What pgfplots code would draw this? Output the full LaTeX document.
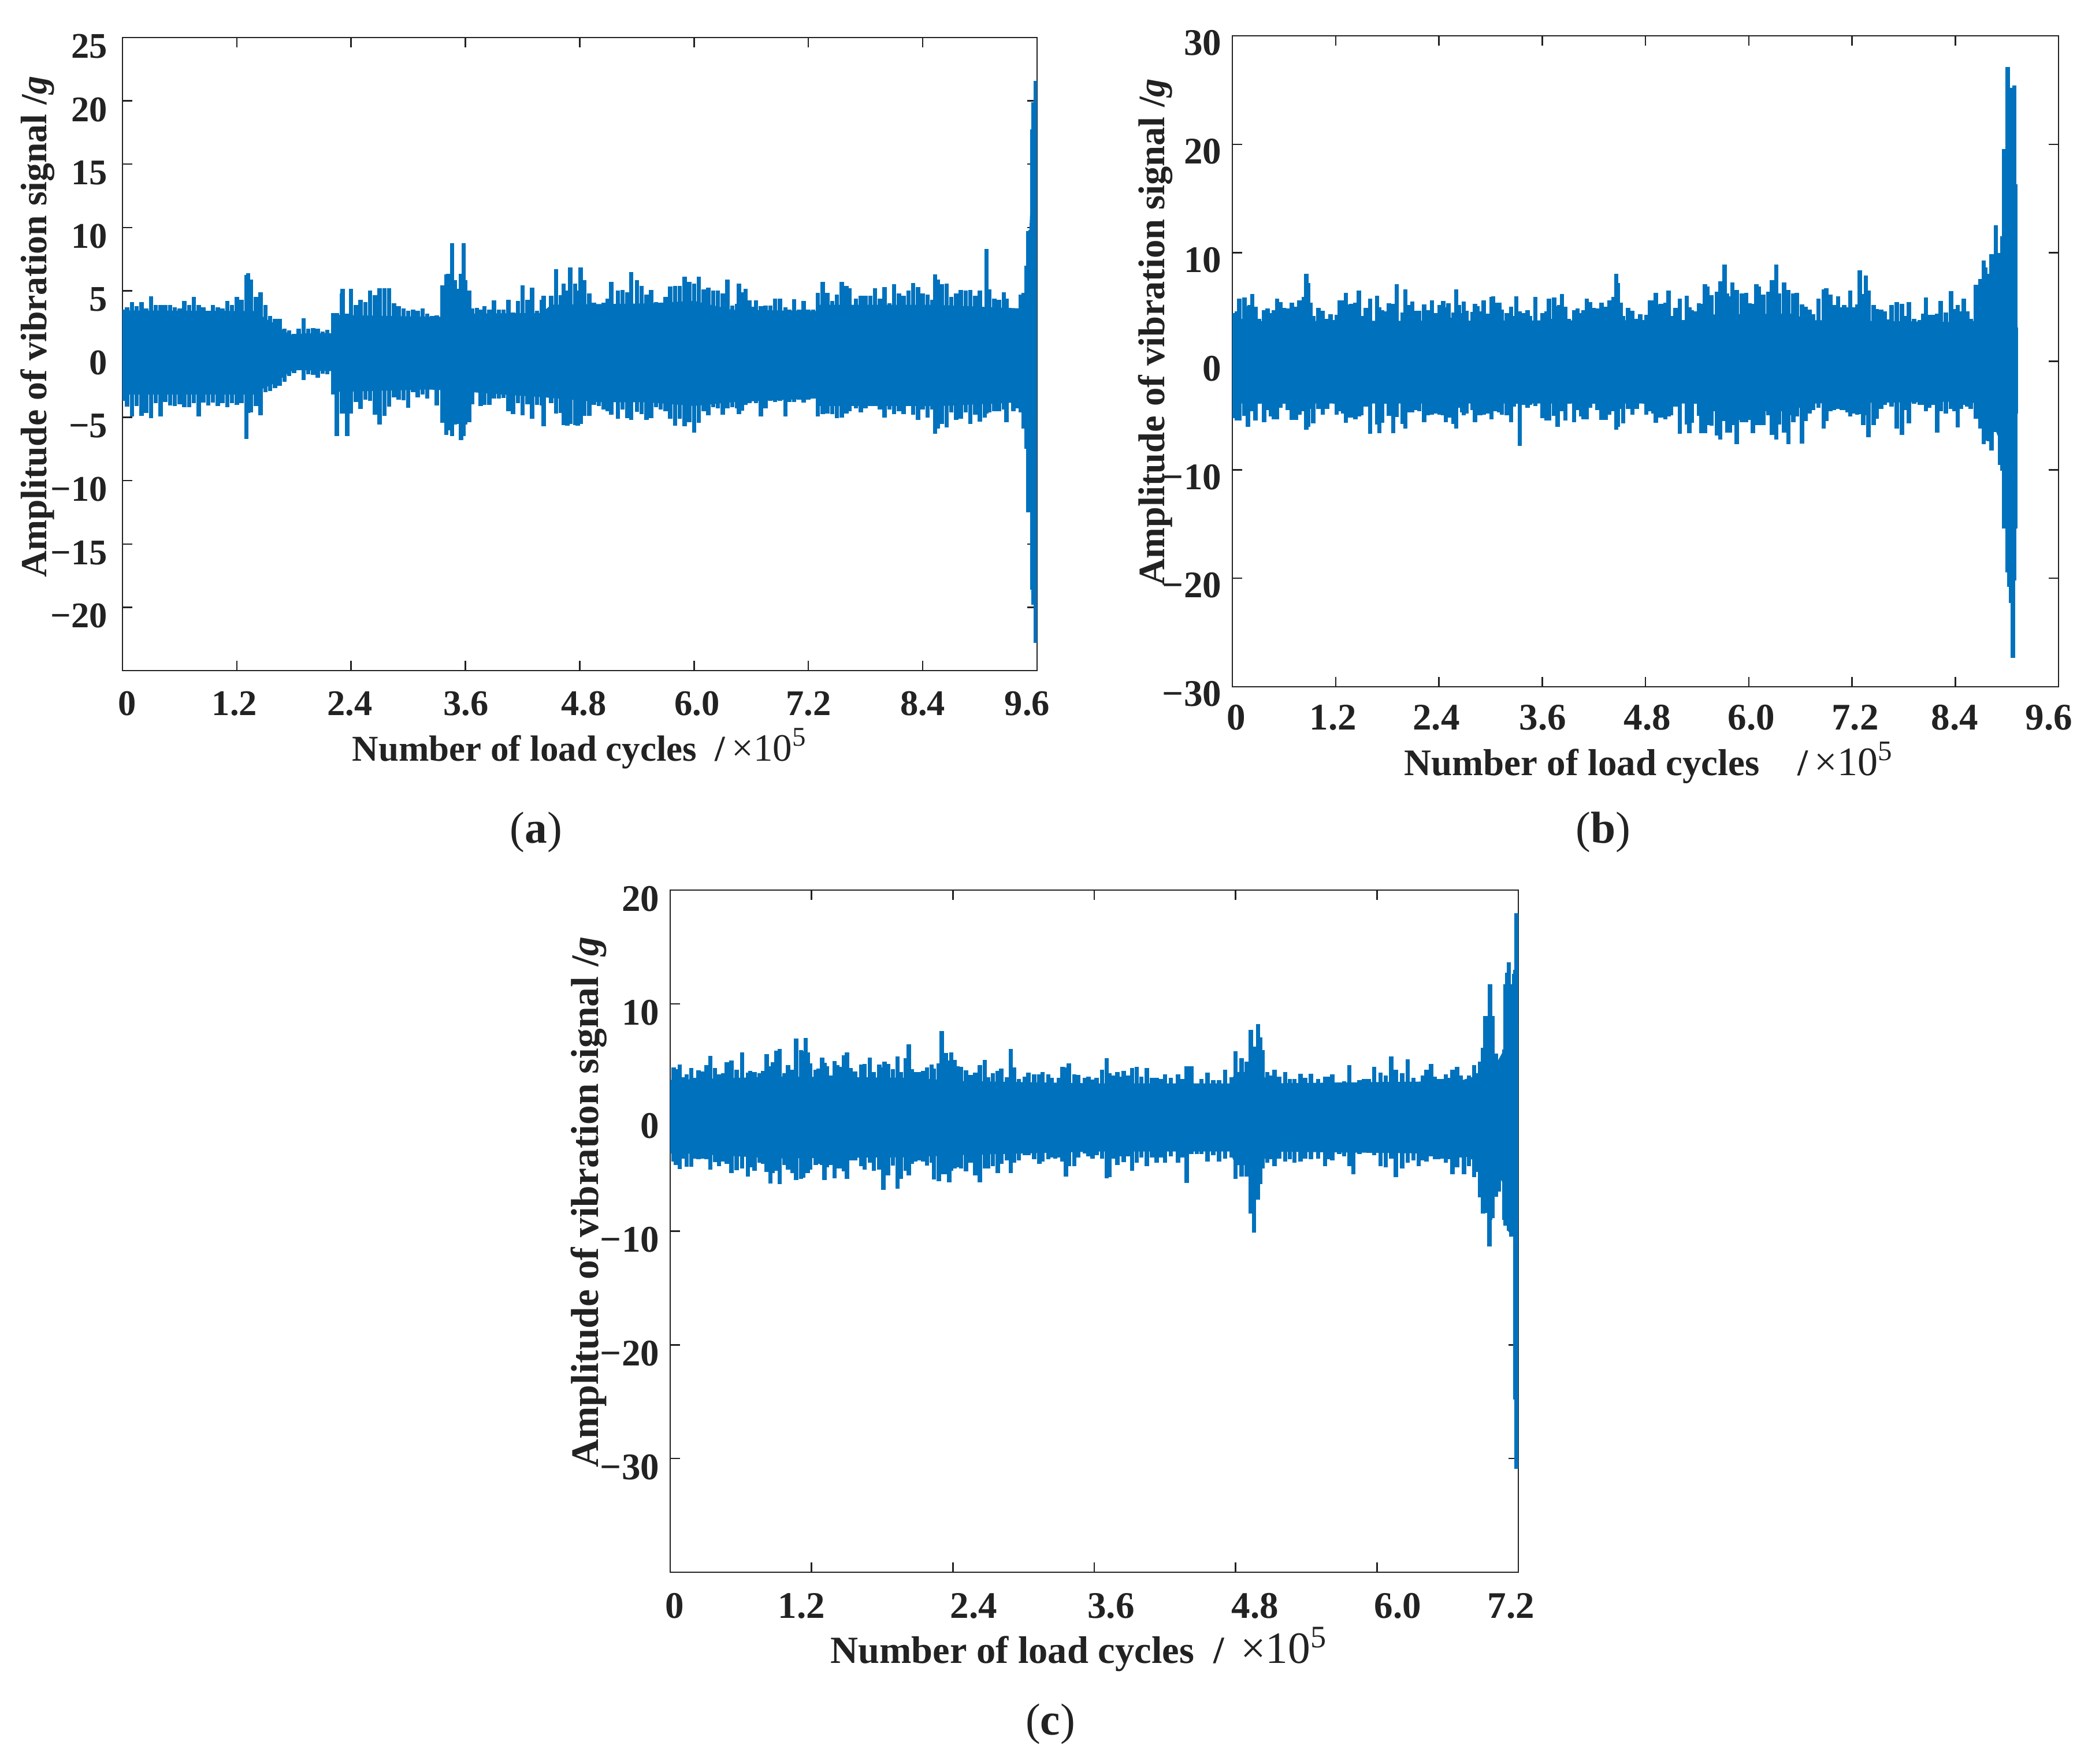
\documentclass[border=0pt]{standalone}
\usepackage{fontspec}
\setmainfont{Liberation Serif}
\usepackage{pgfplots}
\usepackage{pgfplotstable}
\pgfplotsset{compat=1.18}
\definecolor{sigblue}{RGB}{0,114,189}
\definecolor{axdark}{RGB}{34,34,34}
% shift a tick label sideways without moving its tick
\newcommand\sh[2]{\hbox to 0pt{\hss\kern2\dimexpr#1pt\relax #2\hss}}
\newcommand\ylab{\bfseries Amplitude of vibration signal /\textit{g}}
\pgfplotsset{sig/.style={
  scale only axis, axis line style={axdark,line width=.5pt},
  tick style={axdark,line width=.5pt}, major tick length=3.4pt, tick align=inside,
  ticklabel style={font=\fontsize{12.5}{14}\selectfont\bfseries,text=axdark},
  yticklabel style={inner sep=0pt,xshift=-5pt,yshift=-3pt},
  xticklabel style={inner sep=0pt,yshift=-7pt},
  label style={text=axdark,anchor=center},
}}
\pgfplotsset{comb/.style={ycomb,sigblue,line width=1.5pt,mark=none,forget plot}}

% x (x10^5 cycles), upper and lower envelope of the signal
\pgfplotstableread{
x hi lo
0.00 3.5 -3.7
0.05 3.7 -4.15
0.10 4.1 -4.95
0.15 3.8 -4.1
0.20 4.1 -4.9
0.25 3.6 -4.65
0.30 4.55 -5.05
0.35 3.9 -3.9
0.40 3.9 -4.95
0.45 3.9 -3.8
0.50 3.9 -4.05
0.55 3.7 -4.1
0.60 3.6 -3.95
0.65 4.2 -4.2
0.70 3.9 -4.2
0.75 4.5 -3.9
0.80 3.9 -4.95
0.85 3.7 -3.85
0.90 3.2 -4.05
0.95 3.9 -3.85
1.00 3.7 -4.1
1.05 3.6 -3.9
1.10 4.2 -4.2
1.15 3.9 -3.9
1.20 4.5 -4.0
1.25 4.3 -3.9
1.30 6.25 -6.7
1.32 6.4 -4.65
1.35 5.9 -4.6
1.40 4.5 -4.1
1.45 4.9 -4.85
1.50 3.9 -3.0
1.55 3.0 -2.9
1.60 2.8 -2.7
1.65 2.8 -2.5
1.70 2.0 -2.2
1.75 1.85 -1.75
1.80 1.6 -1.5
1.85 2.0 -1.3
1.90 2.85 -2.05
1.95 2.0 -1.6
2.00 2.05 -1.65
2.05 2.0 -1.85
2.10 1.8 -1.55
2.15 1.9 -1.6
2.21 3.25 -3.2
2.25 3.25 -6.5
2.30 4.8 -4.7
2.31 5.15 -4.7
2.36 3.2 -6.5
2.40 5.15 -4.7
2.45 3.9 -3.8
2.50 4.3 -4.35
2.55 4.1 -3.6
2.60 5.0 -3.7
2.65 4.65 -4.8
2.70 5.2 -5.55
2.75 5.2 -4.9
2.80 5.2 -4.15
2.85 4.0 -3.4
2.90 3.8 -3.6
2.95 3.6 -3.65
3.00 3.4 -4.25
3.05 3.5 -3.0
3.10 3.4 -3.4
3.15 3.6 -3.2
3.20 3.2 -3.5
3.25 3.0 -2.8
3.30 3.05 -4.05
3.36 5.45 -5.45
3.40 6.3 -6.4
3.42 6.35 -6.0
3.46 8.75 -6.5
3.49 5.85 -5.55
3.52 5.15 -5.5
3.555 6.35 -6.8
3.58 8.75 -6.5
3.60 5.85 -5.55
3.64 5.0 -5.4
3.67 3.6 -3.95
3.72 3.65 -3.0
3.76 3.5 -4.1
3.80 3.8 -4.0
3.85 3.5 -4.0
3.90 4.25 -3.5
3.95 3.5 -3.5
4.00 3.5 -3.45
4.05 4.3 -4.5
4.10 3.3 -4.75
4.15 4.2 -3.9
4.20 5.45 -4.85
4.25 4.3 -3.95
4.30 5.25 -5.1
4.35 3.4 -4.0
4.40 4.3 -4.05
4.42 4.6 -5.7
4.45 2.9 -3.4
4.50 4.6 -3.9
4.55 6.7 -4.7
4.60 4.65 -4.65
4.63 5.55 -5.6
4.67 5.0 -5.65
4.70 6.85 -5.5
4.75 5.55 -5.6
4.78 5.0 -5.65
4.81 6.85 -5.5
4.85 5.85 -4.9
4.90 4.8 -4.9
4.95 4.05 -4.0
5.00 3.8 -4.1
5.05 4.05 -4.4
5.09 4.4 -4.5
5.13 5.7 -4.8
5.20 5.0 -5.1
5.25 5.05 -4.4
5.30 4.9 -5.05
5.34 6.5 -5.2
5.40 5.85 -4.55
5.45 5.4 -4.75
5.50 4.7 -5.2
5.55 5.05 -5.05
5.60 4.1 -4.2
5.65 3.55 -4.4
5.70 4.5 -4.5
5.75 5.35 -5.1
5.80 5.4 -5.65
5.85 5.4 -5.1
5.90 6.1 -5.7
5.95 5.7 -5.4
6.00 5.55 -6.2
6.05 6.1 -5.45
6.10 5.1 -4.5
6.15 5.25 -4.85
6.20 5.0 -4.2
6.25 5.0 -4.3
6.30 4.8 -4.8
6.35 5.9 -4.3
6.40 3.85 -4.2
6.45 3.95 -4.3
6.47 5.55 -4.75
6.50 4.9 -4.45
6.54 5.15 -4.0
6.58 4.25 -3.9
6.62 3.75 -3.6
6.65 4.25 -3.9
6.70 3.8 -4.95
6.75 3.85 -4.3
6.80 3.85 -3.7
6.85 4.4 -3.8
6.90 4.4 -3.7
6.96 3.7 -4.95
7.00 3.5 -3.8
7.05 4.35 -3.8
7.10 3.5 -3.6
7.15 4.2 -3.85
7.20 3.5 -3.6
7.25 3.5 -3.5
7.30 4.85 -4.95
7.35 5.7 -4.75
7.40 4.85 -4.7
7.45 4.2 -4.75
7.50 4.7 -5.05
7.55 5.7 -5.0
7.60 5.4 -4.7
7.63 5.2 -4.5
7.70 4.4 -4.3
7.75 4.6 -4.6
7.80 4.6 -4.3
7.85 4.6 -4.1
7.90 5.2 -4.1
7.95 4.4 -4.4
8.00 5.3 -5.0
8.05 4.0 -4.4
8.10 5.5 -4.75
8.15 4.8 -4.5
8.20 4.6 -4.75
8.25 5.0 -4.1
8.30 5.6 -4.8
8.35 5.3 -5.2
8.40 4.8 -4.4
8.45 4.7 -5.0
8.50 4.3 -4.4
8.53 6.3 -6.3
8.56 5.9 -5.9
8.60 5.5 -5.5
8.65 5.55 -5.8
8.70 4.5 -4.6
8.75 4.8 -5.2
8.80 5.05 -5.1
8.85 5.0 -4.6
8.90 5.05 -5.5
8.95 4.6 -4.8
9.00 5.0 -5.35
9.05 3.6 -5.0
9.07 8.3 -4.7
9.10 5.1 -4.6
9.15 4.4 -4.5
9.20 4.3 -4.5
9.25 4.9 -4.4
9.28 4.4 -5.4
9.35 3.6 -4.5
9.40 3.5 -4.3
9.43 4.7 -4.6
9.46 4.85 -5.9
9.49 7.0 -7.5
9.51 9.7 -12.5
9.53 9.8 -12.5
9.55 17.75 -18.6
9.565 19.9 -19.8
9.585 21.6 -22.8
}\dataA

\pgfplotstableread{
x hi lo
0.00 4.45 -5.25
0.05 4.6 -5.45
0.08 5.75 -5.45
0.11 3.9 -3.3
0.14 5.9 -5.05
0.18 5.1 -6.05
0.20 5.2 -4.6
0.23 6.2 -4.6
0.27 5.05 -5.45
0.31 3.9 -3.9
0.37 4.7 -5.6
0.41 4.85 -4.5
0.45 4.45 -5.1
0.48 4.7 -5.35
0.52 5.8 -5.35
0.56 5.45 -4.3
0.60 4.9 -3.9
0.64 4.85 -4.5
0.69 5.4 -5.4
0.74 5.05 -5.4
0.78 5.6 -4.9
0.83 5.95 -4.6
0.86 8.05 -6.3
0.88 7.2 -6.05
0.91 5.4 -4.4
0.94 4.2 -5.75
1.00 4.95 -4.4
1.05 4.65 -4.9
1.10 3.9 -4.4
1.14 4.35 -3.8
1.19 3.8 -3.9
1.21 4.3 -4.9
1.25 5.6 -4.6
1.29 5.6 -4.8
1.32 6.3 -5.65
1.35 5.25 -5.2
1.38 5.3 -5.2
1.43 5.4 -5.35
1.47 6.5 -5.1
1.50 4.2 -5.0
1.55 4.95 -4.2
1.60 5.75 -6.7
1.64 3.0 -3.6
1.68 6.05 -5.85
1.71 5.0 -6.65
1.74 4.7 -5.65
1.78 4.6 -3.9
1.82 5.35 -5.05
1.87 5.3 -6.65
1.91 7.1 -5.15
1.98 4.5 -5.8
2.01 6.65 -6.2
2.04 5.2 -4.7
2.09 5.5 -4.7
2.13 4.65 -4.5
2.17 4.65 -4.6
2.23 5.25 -5.6
2.27 4.7 -5.0
2.29 3.5 -4.4
2.32 5.6 -4.9
2.36 4.45 -4.8
2.41 5.2 -4.95
2.45 5.55 -5.0
2.48 5.0 -5.6
2.51 5.35 -5.2
2.54 4.0 -5.2
2.57 4.5 -5.8
2.60 6.65 -6.2
2.63 5.2 -4.3
2.67 4.45 -4.7
2.69 5.5 -5.0
2.72 4.65 -4.8
2.79 4.55 -4.5
2.82 5.3 -5.6
2.85 5.1 -5.0
2.88 4.6 -5.0
2.92 5.6 -4.95
2.96 4.4 -4.8
3.01 5.95 -5.35
3.03 6.0 -4.6
3.06 5.4 -4.6
3.10 5.4 -4.7
3.13 4.75 -4.9
3.19 4.45 -5.0
3.24 5.05 -5.6
3.27 4.2 -4.2
3.30 6.0 -3.9
3.34 4.6 -7.8
3.38 4.45 -4.0
3.43 4.7 -4.3
3.46 4.2 -4.0
3.52 5.95 -4.15
3.60 4.45 -5.25
3.65 4.6 -5.45
3.68 5.75 -5.45
3.71 3.9 -3.3
3.74 5.9 -5.05
3.78 5.1 -6.05
3.80 5.2 -4.6
3.83 6.2 -4.6
3.87 5.05 -5.45
3.91 3.9 -3.9
3.97 4.7 -5.6
4.01 4.85 -4.5
4.05 4.45 -5.1
4.08 4.7 -5.35
4.12 5.8 -5.35
4.16 5.45 -4.3
4.20 4.9 -3.9
4.24 4.85 -4.5
4.29 5.4 -5.4
4.34 5.05 -5.4
4.38 5.6 -4.9
4.43 5.95 -4.6
4.46 8.05 -6.3
4.48 7.2 -6.05
4.51 5.4 -4.4
4.54 4.2 -5.75
4.60 4.95 -4.4
4.65 4.65 -4.9
4.70 3.9 -4.4
4.74 4.35 -3.8
4.79 3.8 -3.9
4.81 4.3 -4.9
4.85 5.6 -4.6
4.89 5.6 -4.8
4.92 6.3 -5.65
4.95 5.25 -5.2
4.98 5.3 -5.2
5.03 5.4 -5.35
5.07 6.5 -5.1
5.10 4.2 -5.0
5.15 4.95 -4.2
5.20 5.75 -6.7
5.24 3.0 -3.6
5.28 6.05 -5.85
5.31 5.0 -6.65
5.34 4.7 -5.65
5.38 4.6 -3.9
5.42 5.35 -5.05
5.45 5.3 -6.65
5.49 7.1 -6.65
5.52 6.9 -5.9
5.57 6.1 -5.95
5.63 6.4 -6.85
5.67 7.4 -7.2
5.72 8.9 -5.5
5.75 6.25 -6.6
5.78 6.0 -6.6
5.81 7.25 -5.9
5.86 6.6 -7.65
5.89 3.9 -5.4
5.92 6.25 -5.6
5.97 6.3 -5.6
6.01 5.35 -5.4
6.05 5.3 -6.65
6.09 7.1 -5.9
6.12 6.9 -5.9
6.17 6.15 -5.9
6.23 6.4 -5.0
6.27 7.5 -6.8
6.32 8.9 -7.2
6.35 6.25 -5.85
6.41 7.25 -6.6
6.46 6.6 -7.65
6.49 4.2 -5.0
6.52 6.25 -5.6
6.56 6.3 -5.1
6.62 5.25 -7.6
6.66 5.05 -5.5
6.71 4.75 -4.8
6.75 4.35 -4.5
6.81 5.75 -4.3
6.87 6.65 -6.2
6.90 6.75 -5.5
6.95 6.15 -4.6
6.99 5.2 -4.5
7.04 6.0 -4.4
7.08 5.0 -4.5
7.11 5.2 -4.5
7.15 5.0 -4.7
7.18 6.5 -5.1
7.22 5.0 -4.8
7.26 5.25 -4.9
7.29 8.4 -4.85
7.33 6.2 -5.9
7.36 7.9 -5.0
7.39 6.5 -7.0
7.45 5.2 -5.9
7.49 4.8 -5.3
7.54 4.75 -4.4
7.58 4.6 -4.0
7.62 3.85 -3.6
7.66 5.2 -4.2
7.72 5.45 -6.2
7.78 5.3 -6.8
7.83 4.2 -4.5
7.86 5.45 -5.7
7.92 3.9 -3.9
7.99 3.8 -4.0
8.03 4.4 -4.0
8.06 5.9 -4.6
8.10 4.3 -4.3
8.14 4.3 -4.0
8.19 4.4 -6.6
8.23 5.55 -4.6
8.29 4.5 -4.8
8.35 6.45 -4.4
8.39 4.8 -4.6
8.43 5.2 -6.1
8.47 4.6 -4.4
8.50 5.8 -4.0
8.54 4.6 -4.2
8.58 3.9 -4.4
8.64 7.05 -5.3
8.69 7.6 -6.2
8.73 9.3 -7.65
8.75 8.65 -7.3
8.79 8.05 -7.4
8.82 9.9 -8.2
8.87 12.55 -6.5
8.88 9.55 -6.5
8.92 10.0 -9.55
8.95 11.5 -10.1
8.97 19.55 -15.4
8.99 17.3 -15.0
9.01 27.1 -19.45
9.03 21.7 -20.8
9.05 25.2 -22.3
9.07 22.6 -27.35
9.085 25.4 -20.2
9.10 16.3 -15.4
9.105 3.1 -4.8
}\dataB

\pgfplotstableread{
x hi lo
0.00 3.3 -3.15
0.03 4.4 -3.9
0.05 4.25 -4.2
0.08 4.65 -4.55
0.115 3.55 -3.6
0.14 3.8 -4.35
0.18 4.35 -4.35
0.20 3.5 -3.6
0.24 4.15 -3.7
0.28 4.05 -3.6
0.31 4.6 -3.7
0.34 5.4 -4.6
0.38 4.35 -3.95
0.415 3.8 -4.3
0.45 3.9 -3.9
0.48 4.85 -4.1
0.52 5.0 -4.9
0.565 4.2 -4.65
0.61 5.7 -4.5
0.66 3.95 -5.2
0.68 4.1 -4.4
0.715 4.0 -4.7
0.76 3.9 -4.0
0.79 4.1 -4.1
0.82 5.55 -4.8
0.85 4.5 -5.8
0.87 4.85 -4.9
0.90 5.9 -4.7
0.93 6.05 -5.85
0.97 3.9 -4.2
1.00 4.6 -4.6
1.04 4.2 -4.9
1.07 6.95 -5.5
1.11 5.95 -5.4
1.13 5.85 -5.3
1.15 7.0 -4.9
1.17 5.7 -4.9
1.19 4.75 -4.6
1.235 4.2 -4.2
1.26 4.3 -4.1
1.29 5.25 -4.2
1.31 4.8 -5.5
1.33 4.5 -4.4
1.36 3.7 -4.2
1.395 4.95 -5.35
1.42 4.6 -4.5
1.44 4.45 -4.5
1.475 5.45 -4.75
1.50 5.7 -5.4
1.53 4.35 -3.8
1.57 4.05 -3.8
1.62 4.65 -4.3
1.65 4.7 -4.6
1.695 5.25 -4.0
1.73 4.0 -4.7
1.775 4.65 -4.6
1.81 4.4 -6.35
1.82 4.9 -4.2
1.85 4.7 -5.1
1.89 4.25 -4.25
1.93 5.35 -6.25
1.96 4.0 -5.4
2.00 5.2 -4.7
2.025 6.45 -5.1
2.05 4.25 -4.1
2.08 4.0 -3.9
2.11 4.0 -3.8
2.145 4.1 -3.9
2.18 4.4 -4.25
2.22 4.65 -4.0
2.24 4.3 -5.45
2.28 4.75 -5.6
2.305 7.6 -5.0
2.34 5.65 -5.0
2.37 5.0 -5.7
2.385 5.7 -4.7
2.415 5.05 -4.5
2.44 4.5 -4.4
2.47 4.45 -4.5
2.51 4.15 -4.75
2.55 3.75 -4.0
2.59 3.95 -5.1
2.63 4.6 -5.7
2.67 5.05 -4.5
2.70 3.55 -4.5
2.74 3.9 -4.3
2.78 4.1 -4.9
2.81 4.3 -4.1
2.86 3.55 -3.8
2.89 6.05 -4.9
2.92 4.4 -4.0
2.96 3.4 -3.8
3.01 3.6 -3.3
3.04 3.95 -3.3
3.09 3.8 -3.7
3.135 3.8 -4.1
3.16 4.0 -3.9
3.21 3.8 -3.7
3.24 3.5 -3.5
3.27 2.8 -3.6
3.30 3.5 -3.5
3.33 4.45 -3.9
3.36 4.4 -5.2
3.385 4.75 -4.3
3.43 3.8 -4.3
3.465 3.75 -3.5
3.52 3.5 -3.15
3.55 3.6 -3.4
3.585 3.35 -3.6
3.62 3.5 -3.3
3.665 4.2 -3.6
3.705 5.2 -5.35
3.73 3.9 -5.25
3.76 3.7 -3.6
3.795 4.0 -4.2
3.82 3.6 -3.4
3.85 4.1 -3.95
3.89 3.7 -3.4
3.92 4.35 -4.7
3.96 4.45 -4.0
4.00 3.6 -3.5
4.045 4.35 -4.3
4.09 3.5 -3.5
4.13 3.5 -4.0
4.17 3.4 -3.5
4.20 3.8 -4.0
4.25 3.5 -3.4
4.31 3.8 -4.0
4.35 3.4 -3.5
4.385 4.5 -5.75
4.425 4.5 -3.2
4.47 2.6 -3.2
4.51 3.4 -3.2
4.56 3.95 -3.9
4.61 3.3 -3.3
4.66 3.3 -3.9
4.71 4.2 -3.6
4.765 3.55 -3.5
4.80 5.85 -5.4
4.85 5.2 -5.2
4.895 4.9 -5.2
4.93 7.7 -8.45
4.955 6.25 -10.15
4.99 8.2 -7.25
5.01 7.05 -5.85
5.03 5.95 -4.5
5.07 4.0 -4.0
5.10 3.7 -3.7
5.13 4.2 -4.3
5.17 3.6 -3.6
5.22 4.0 -3.9
5.26 3.4 -3.7
5.30 3.4 -4.0
5.35 3.85 -3.9
5.39 3.5 -3.6
5.44 3.85 -3.7
5.50 3.4 -3.6
5.56 3.6 -4.3
5.59 3.6 -3.7
5.62 3.8 -3.8
5.68 3.1 -3.2
5.72 3.2 -3.4
5.765 4.6 -4.3
5.80 3.1 -5.0
5.85 3.3 -3.2
5.89 3.4 -2.9
5.93 3.4 -3.1
5.975 4.45 -3.3
6.03 3.95 -4.3
6.075 3.7 -4.4
6.12 5.35 -3.6
6.16 4.2 -5.25
6.215 3.9 -4.5
6.26 5.1 -4.0
6.31 3.5 -3.8
6.355 3.1 -4.3
6.39 3.7 -3.8
6.42 4.2 -3.9
6.46 4.7 -3.4
6.49 3.6 -3.7
6.52 3.4 -3.7
6.55 3.4 -3.6
6.585 3.8 -4.0
6.61 3.5 -3.7
6.64 4.2 -5.0
6.68 4.45 -4.4
6.71 3.7 -3.5
6.74 3.3 -5.0
6.78 3.7 -4.3
6.825 4.6 -5.25
6.85 3.9 -4.8
6.875 4.9 -7.05
6.90 6.15 -8.45
6.92 8.9 -7.0
6.93 8.5 -8.1
6.94 8.0 -8.4
6.955 8.0 -11.35
6.96 11.7 -9.0
6.98 8.9 -8.85
7.01 5.6 -7.0
7.035 5.0 -6.5
7.06 4.9 -5.5
7.08 6.0 -9.0
7.09 11.7 -9.5
7.105 12.75 -9.5
7.12 13.65 -10
7.14 11.7 -10.5
7.15 11.0 -9.5
7.165 12.65 -10
7.175 13 -24.8
7.185 17.95 -30.9
7.195 11.5 -25
}\dataC

\begin{document}
\begin{tikzpicture}
\useasboundingbox (0,0) rectangle (722.8pt,610.6pt);

% (a)
\begin{axis}[sig, at={(42.4pt,378.4pt)}, width=316.6pt, height=219.2pt,
  xmin=0, xmax=9.6, ymin=-25, ymax=25,
  xtick={0,1.2,2.4,3.6,4.8,6,7.2,8.4,9.6},
  xticklabels={\sh{1.6}{0},\sh{-.8}{1.2},\sh{-.5}{2.4},\sh{.2}{3.6},\sh{1.4}{4.8},\sh{1}{6.0},7.2,8.4,\sh{-3.4}{9.6}},
  ytick={-25,-20,-15,-10,-5,0,5,10,15,20,25},
  yticklabels={,−20,−15,−10,−5,0,5,10,15,20,25},
  xlabel={\textbf{Number of load cycles}\ \ \textbf{/}\,{\fontsize{13.4}{14}\selectfont ×10\textsuperscript{5}}},
  ylabel={\ylab},
  xlabel style={font=\fontsize{12.6}{14}\selectfont,at={(axis description cs:0.5,-0.123)}},
  ylabel style={font=\fontsize{12.75}{14}\selectfont,at={(axis description cs:-0.093,0.543)}},
]
\addplot[fill=sigblue,draw=none,forget plot] coordinates {
 (0,3.45) (1.4,3.4) (1.5,2.8) (1.6,2.4) (1.7,1.8) (1.8,1.45) (1.9,1.65) (2.2,1.65) (2.21,3.1)
 (3.2,2.95) (3.35,2.95) (3.36,4.4) (3.64,4.4) (3.65,3.2) (4.4,3.25) (4.5,3.9) (5.5,4.0) (6.0,4.2)
 (6.4,3.5) (7.3,3.4) (7.32,3.9) (8.5,3.9) (9.45,3.6) (9.5,6.5) (9.55,15) (9.6,20)
 (9.6,-20) (9.55,-15) (9.5,-8) (9.45,-3.8) (8.6,-4.1) (7.32,-4.1) (7.3,-3.5) (6.4,-3.8)
 (6.0,-4.1) (5.5,-3.8) (5.0,-3.8) (4.4,-3.4) (4.0,-3.2) (3.65,-3.0) (3.64,-4.8) (3.37,-4.8)
 (3.36,-2.85) (3.2,-2.8) (2.21,-3.0) (2.2,-1.35) (1.8,-1.25) (1.75,-1.45) (1.6,-2.3) (1.45,-2.8)
 (1.4,-3.2) (0,-3.2)
} -- cycle;
\addplot[comb] table[x=x,y=hi] {\dataA};
\addplot[comb] table[x=x,y=lo] {\dataA};
\end{axis}

% (b)
\begin{axis}[sig, at={(426.6pt,372.8pt)}, width=286pt, height=225.4pt,
  xmin=0, xmax=9.6, ymin=-30, ymax=30,
  ticklabel style={font=\fontsize{13}{14}\selectfont\bfseries},
  yticklabel style={xshift=1.4pt,yshift=.5pt},
  xticklabel style={yshift=1pt},
  xtick={0,1.2,2.4,3.6,4.8,6,7.2,8.4,9.6},
  xticklabels={\sh{1.4}{0},\sh{-.9}{1.2},\sh{-.9}{2.4},\sh{.2}{3.6},\sh{.7}{4.8},\sh{.9}{6.0},\sh{1.1}{7.2},\sh{-.2}{8.4},\sh{-3.3}{9.6}},
  ytick={-30,-20,-10,0,10,20,30},
  yticklabels={−30,−20,−10,0,10,20,30},
  xlabel={\textbf{Number of load cycles}\ \ \ \ \textbf{/}\,{\fontsize{14}{14}\selectfont ×10\textsuperscript{5}}},
  ylabel={\ylab},
  xlabel style={font=\fontsize{13}{14}\selectfont,at={(axis description cs:0.504,-0.117)}},
  ylabel style={font=\fontsize{12.9}{14}\selectfont,at={(axis description cs:-0.093,0.545)}},
]
\addplot[fill=sigblue,draw=none,forget plot] coordinates {
 (0,3.7) (5.3,3.8) (5.4,4.3) (6.5,4.4) (6.7,3.8) (8.6,3.6) (8.65,4.2) (8.8,5.5) (8.9,7) (8.97,10) (9.0,15) (9.1,15) (9.105,3.1)
 (9.105,-4.8) (9.1,-15) (9.0,-15) (8.95,-8) (8.85,-6) (8.7,-5) (8.6,-3.7) (6.7,-3.9) (6.5,-4.6) (5.5,-4.6) (5.4,-3.9) (0,-3.9)
} -- cycle;
\addplot[comb] table[x=x,y=hi] {\dataB};
\addplot[comb] table[x=x,y=lo] {\dataB};
\end{axis}

% (c)
\begin{axis}[sig, at={(232pt,66.2pt)}, width=293.6pt, height=236.2pt,
  xmin=0, xmax=7.2, ymin=-40, ymax=20,
  ticklabel style={font=\fontsize{13}{14}\selectfont\bfseries},
  yticklabel style={xshift=1.4pt},
  xtick={0,1.2,2.4,3.6,4.8,6,7.2},
  xticklabels={\sh{1.6}{0},\sh{-3.5}{1.2},\sh{7.2}{2.4},\sh{5.8}{3.6},\sh{6.7}{4.8},\sh{7.2}{6.0},\sh{-2.5}{7.2}},
  ytick={-40,-30,-20,-10,0,10,20},
  yticklabels={,−30,−20,−10,0,10,20},
  xlabel={\textbf{Number of load cycles}\ \ \textbf{/}\ \,{\fontsize{15.5}{15}\selectfont ×10\textsuperscript{5}}},
  ylabel={\ylab},
  xlabel style={font=\fontsize{13.3}{14}\selectfont,at={(axis description cs:0.482,-0.113)}},
  ylabel style={font=\fontsize{13.5}{14}\selectfont,at={(axis description cs:-0.096,0.543)}},
]
\addplot[fill=sigblue,draw=none,forget plot] coordinates {
 (0,3.3) (0.9,3.6) (2.0,3.5) (2.5,3.2) (3.6,3.0) (4.75,3.0) (4.8,4.0) (5.03,4.0) (5.07,3.0) (6.7,3.2) (6.85,3.7) (6.9,5) (7.0,4.5) (7.08,6) (7.2,8)
 (7.2,-9) (7.18,-9) (7.08,-6) (7.0,-4.5) (6.9,-5.5) (6.85,-3.9) (6.7,-3.2) (5.07,-3.0) (5.03,-4.2) (4.8,-4.2) (4.75,-3.0) (3.6,-3.0) (2.5,-3.3) (2.0,-3.5) (0.9,-3.6) (0,-3.1)
} -- cycle;
\addplot[comb] table[x=x,y=hi] {\dataC};
\addplot[comb] table[x=x,y=lo] {\dataC};
\end{axis}

\node[text=axdark,font=\fontsize{15.5}{17}\selectfont] at (185.6pt,322.4pt) {(\textbf{a})};
\node[text=axdark,font=\fontsize{15.5}{17}\selectfont] at (555pt,322.4pt) {(\textbf{b})};
\node[text=axdark,font=\fontsize{15.5}{17}\selectfont] at (363.6pt,13.6pt) {(\textbf{c})};
\end{tikzpicture}
\end{document}
